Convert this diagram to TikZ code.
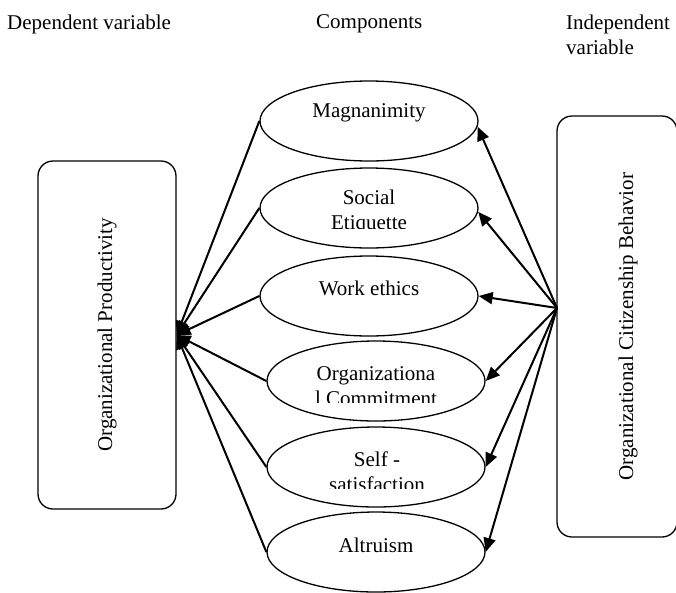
\documentclass[tikz,border=0pt]{standalone}
\usepackage{fontspec}
\setmainfont{Liberation Serif}
\usetikzlibrary{arrows.meta,shapes.geometric}

\begin{document}
\begin{tikzpicture}[x=1pt,y=-1pt,
  every node/.style={font=\fontsize{21}{25}\selectfont},
  comp/.style={draw, ellipse, line width=1.3pt, minimum width=218pt,
    minimum height=80pt, inner sep=0pt},
  varbox/.style={draw, rounded corners=15pt, line width=1.3pt, inner sep=0pt},
  link/.style={line width=2pt},
  tip/.style={-{Triangle[length=14pt,width=12pt]}},
  hdr/.style={anchor=west, inner sep=0pt},
  lbl/.style={inner sep=0pt, align=center},
]
\useasboundingbox (0,0) rectangle (676,592);

% column headings
\node[hdr] (hdep) at (7,24) {Dependent variable};
\node[hdr] (hcomp) at (316,24) {Components};
\node[hdr, align=left] (hind) at (566,35) {Independent\\variable};

% dependent and independent variable boxes
\node[varbox, minimum width=138pt, minimum height=348pt] (op) at (107,335)
  {\rotatebox{90}{Organizational Productivity}};
\node[varbox, minimum width=120pt, minimum height=421pt] (ocb) at (617,326.5) {};
\node[lbl, rotate=90] (ocbtext) at (628,326.5) {Organizational Citizenship Behavior};
\coordinate (ocbout) at (557,308);

% components
\node[comp] (mag)  at (369,121) {};
\node[comp] (soc)  at (369,208) {};
\node[comp] (work) at (369,296) {};
\node[comp] (org)  at (376,381) {};
\node[comp] (self) at (376,467) {};
\node[comp] (alt)  at (376,552) {};

% component labels (the second line of the two-line ones is cut off)
\node[lbl] (magt)  at (369,113) {Magnanimity};
\node[lbl] (workt) at (369,288) {Work ethics};
\node[lbl] (altt)  at (376,545) {Altruism};
\begin{scope}
  \clip (250,170) rectangle (490,228);
  \node[lbl] (soct) at (369,212) {Social\\Etiquette};
\end{scope}
\begin{scope}
  \clip (250,345) rectangle (490,402);
  \node[lbl] (orgt) at (376,386) {Organizationa\\l Commitment};
\end{scope}
\begin{scope}
  \clip (250,430) rectangle (490,488);
  \node[lbl] (selft) at (377,472) {Self -\\satisfaction};
\end{scope}

% components -> dependent variable
\foreach \c in {mag,soc,work,org,self,alt}
  \draw[link,tip] (\c.west) -- (op.east);

% independent variable -> components
\draw[link,tip] (ocbout) -- (mag.-3);
\draw[link,tip] (ocbout) -- (soc.-2);
\draw[link,tip] (ocbout) -- (work.east);
\draw[link,tip] (ocbout) -- (org.east);
\draw[link,tip] (ocbout) -- (self.east);
\draw[link,tip] (ocbout) -- (alt.east);
\end{tikzpicture}
\end{document}
